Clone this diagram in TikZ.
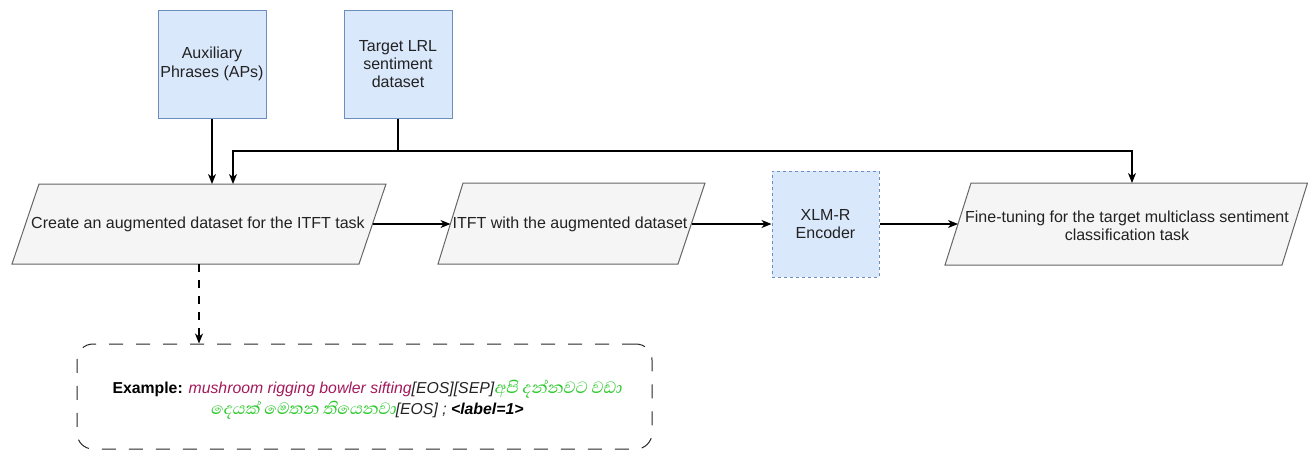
\documentclass[tikz,border=0pt]{standalone}
\usepackage{fontspec}
\setmainfont{Liberation Sans}
\newfontfamily\sinhalafont[Script=Sinhala,FakeSlant=0.2,Scale=1.32]{Abhaya Libre}
\usetikzlibrary{arrows.meta}
\definecolor{bluefill}{HTML}{DAE8FC}
\definecolor{blueline}{HTML}{6C8EBF}
\definecolor{grayfill}{HTML}{F5F5F5}
\definecolor{grayline}{HTML}{666666}
\definecolor{txt}{HTML}{222222}
\definecolor{magent}{HTML}{A3195B}
\definecolor{sgreen}{HTML}{2DC82D}
\newcommand\mainfs{\fontsize{16}{18.4}\selectfont}
\newcommand\exfs{\fontsize{15.8}{21}\selectfont}
\begin{document}
\begin{tikzpicture}[x=1pt,y=-1pt,
  bluebox/.style={draw=blueline, fill=bluefill, line width=1pt, minimum width=108pt, minimum height=108pt, align=center, text=txt, font=\mainfs, inner sep=0pt},
  para/.style={draw=grayline, fill=grayfill, line width=1pt},
  ptext/.style={align=center, text=txt, font=\mainfs, inner sep=0pt},
  arr/.style={draw=black, line width=1.2pt, -{Stealth[length=10pt,width=8pt,inset=3pt]}},
]
\useasboundingbox (0,0) rectangle (1308,450);

% top input boxes
\node[bluebox] (aux) at (212,64) {Auxiliary\\Phrases (APs)};
\node[bluebox] (tgt) at (398,64) {Target LRL\\sentiment\\dataset};

% parallelograms
\path[para] (39,184) -- (386,184) -- (359,264) -- (12,264) -- cycle;
\node[ptext] (p1) at (198,224) {Create an augmented dataset for the ITFT task};
\path[para] (463,183) -- (705,183) -- (678,264) -- (438,264) -- cycle;
\node[ptext] (p2) at (570,224) {ITFT with the augmented dataset};
\path[para] (971,183) -- (1307.5,183) -- (1282,265) -- (945,265) -- cycle;
\node[ptext] (p3) at (1127,226) {Fine-tuning for the target multiclass sentiment\\classification task};

% encoder
\node[bluebox, dash pattern=on 3pt off 3pt, minimum width=107pt, minimum height=106pt] (xlm) at (825.5,224) {XLM-R\\Encoder};

% example box
\node[draw=black!85, line width=1pt, dash pattern=on 14pt off 13pt, rounded corners=16pt,
      minimum width=575pt, minimum height=105pt, inner sep=0pt]
      (ex) at (364.5,396.5) {};
\node[inner sep=0pt, align=center, font=\exfs, text=black] (extext) at (367,400)
{{\bfseries Example:} {\itshape\color{magent}mushroom rigging bowler sifting}{\itshape\color{txt}[EOS][SEP]}{\color{sgreen}\sinhalafont අපි දන්නවට වඩා}\\
{\color{sgreen}\sinhalafont දෙයක් මෙතන තියෙනවා}{\itshape\color{txt}[EOS] ; }{\bfseries\itshape \textless label=1\textgreater}};

% connector anchor points on the parallelograms
\coordinate (p1e) at (372.5,224);
\coordinate (p2w) at (450.5,224);
\coordinate (p2e) at (691.5,224);
\coordinate (p3w) at (958,224);
\coordinate (p1n) at (212,184);
\coordinate (p1n2) at (233,184);
\coordinate (p3n) at (1132,183);
\coordinate (j) at (398,151);
\coordinate (p1s) at (199,264);

% connectors
\draw[arr] (aux.south) -- (p1n);
\draw[arr] (tgt.south) -- (j) -| (p1n2);
\draw[arr] (j) -| (p3n);
\draw[arr] (p1e) -- (p2w);
\draw[arr] (p2e) -- (xlm.west);
\draw[arr] (xlm.east) -- (p3w);
\draw[arr, dash pattern=on 8pt off 8pt] (p1s) -- (ex.north -| p1s);
\end{tikzpicture}
\end{document}
